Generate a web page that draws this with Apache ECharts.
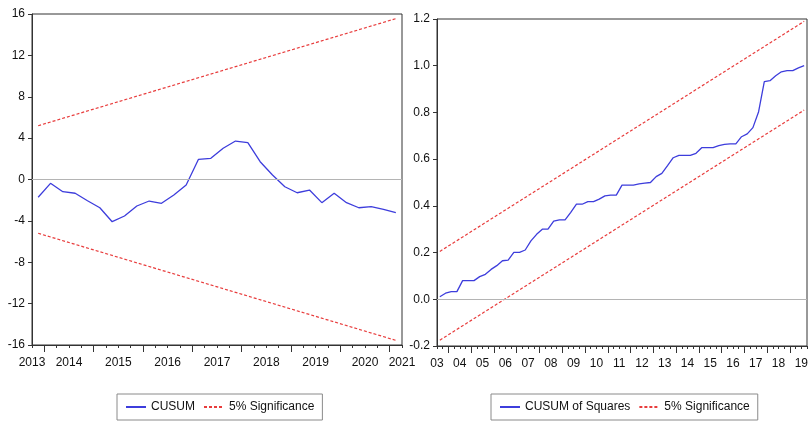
<!DOCTYPE html>
<html>
<head>
<meta charset="utf-8">
<script src="https://cdn.jsdelivr.net/npm/echarts@6/dist/echarts.min.js"></script>
<style>
  html, body { margin: 0; padding: 0; background: #fff; }
  #chart { width: 811px; height: 422px; }
</style>
</head>
<body>
<div id="chart"></div>
<script>
// Recursive residual CUSUM test, quarterly, first observation 2013Q4
const cusumStart = [2013, 4];
const cusumValues = [
  -1.72, -0.37, -1.18, -1.33, -2.05, -2.73, -4.08, -3.53, -2.56, -2.08,
  -2.30, -1.50, -0.53, 1.95, 2.05, 3.02, 3.72, 3.56, 1.72, 0.44,
  -0.70, -1.28, -1.02, -2.24, -1.33, -2.24, -2.73, -2.63, -2.88, -3.21
];
// 5% bounds at the first and last observation (straight lines)
const cusumUpper = [5.2, 15.55];
const cusumLower = [-5.2, -15.55];
const cusumYears = [2013, 2014, 2015, 2016, 2017, 2018, 2019, 2020, 2021];
const cusumYearLabels = ['2013', '2014', '2015', '2016', '2017', '2018', '2019', '2020', '2021'];

// CUSUM of squares, quarterly, first observation 2003Q3
const sqStart = [2003, 3];
const sqValues = [
  0.011, 0.026, 0.033, 0.033, 0.080, 0.080, 0.080, 0.097, 0.107, 0.128,
  0.144, 0.165, 0.168, 0.201, 0.201, 0.211, 0.250, 0.278, 0.300, 0.300,
  0.335, 0.340, 0.340, 0.372, 0.407, 0.407, 0.418, 0.418, 0.429, 0.443,
  0.446, 0.446, 0.489, 0.489, 0.489, 0.494, 0.497, 0.500, 0.525, 0.539,
  0.572, 0.606, 0.616, 0.616, 0.616, 0.625, 0.649, 0.649, 0.649, 0.658,
  0.663, 0.665, 0.665, 0.696, 0.708, 0.735, 0.803, 0.932, 0.936, 0.957,
  0.974, 0.979, 0.979, 0.991, 1.000
];
const sqUpper = [0.205, 1.19];
const sqLower = [-0.175, 0.81];
const sqYears = [2003, 2004, 2005, 2006, 2007, 2008, 2009, 2010, 2011,
  2012, 2013, 2014, 2015, 2016, 2017, 2018, 2019];
const sqYearLabels = ['03', '04', '05', '06', '07', '08', '09', '10', '11',
  '12', '13', '14', '15', '16', '17', '18', '19'];

const FONT = "'Liberation Sans Narrow', 'Arial Narrow', 'Liberation Sans', Arial, sans-serif";
const BLUE = '#3d3ddc';
const RED = '#e83c3c';
const FRAME = '#333';

// Quarter slots: observation i occupies [i, i+1]; year ticks sit on Q1 boundaries,
// year labels are centred on the year's span and kept inside the axis.
function quarterAxis(start, n, years, texts) {
  const [y0, q0] = start;
  const q1Slot = y => (y - y0) * 4 + 1 - q0;
  const minor = [];
  for (let i = 0; i <= n; i++) minor.push(i);
  const major = years.map(q1Slot).filter(v => v >= 0 && v <= n);
  const labelMap = {};
  const labelPos = years.map((y, k) => {
    const c = Math.min(n, Math.max(0, q1Slot(y) + 2));
    labelMap[c] = texts[k];
    return c;
  });
  return { minor, major, labelPos, labelMap };
}

function xAxesFor(gridIndex, n, qa) {
  return [
    {
      type: 'value', gridIndex, min: 0, max: n, position: 'bottom',
      axisLine: { show: true, onZero: false, lineStyle: { color: FRAME, width: 1 } },
      axisTick: { show: true, customValues: qa.minor, length: 3, lineStyle: { color: FRAME } },
      axisLabel: {
        show: true, customValues: qa.labelPos, margin: 12,
        formatter: v => qa.labelMap[v] ?? '',
        color: '#111', fontFamily: FONT, fontSize: 12
      },
      splitLine: { show: false }
    },
    {
      type: 'value', gridIndex, min: 0, max: n, position: 'bottom',
      axisLine: { show: false, onZero: false },
      axisTick: { show: true, customValues: qa.major, length: 7, lineStyle: { color: FRAME } },
      axisLabel: { show: false },
      splitLine: { show: false }
    }
  ];
}

function yAxisFor(gridIndex, min, max, interval, fmt) {
  return {
    type: 'value', gridIndex, min, max, interval,
    axisLine: { show: true, onZero: false, lineStyle: { color: FRAME, width: 1 } },
    axisTick: { show: true, length: 4, lineStyle: { color: FRAME } },
    axisLabel: { margin: 7, color: '#111', fontFamily: FONT, fontSize: 12, formatter: fmt },
    splitLine: { show: false }
  };
}

function pts(values) { return values.map((v, i) => [i + 0.5, v]); }
function ends(pair, n) { return [[0.5, pair[0]], [n - 0.5, pair[1]]]; }

const nC = cusumValues.length;
const nS = sqValues.length;
const qaC = quarterAxis(cusumStart, nC, cusumYears, cusumYearLabels);
const qaS = quarterAxis(sqStart, nS, sqYears, sqYearLabels);

const zeroLine = {
  silent: true, symbol: 'none', label: { show: false },
  lineStyle: { color: '#b4b4b4', type: 'solid', width: 1 },
  emphasis: { disabled: true },
  data: [{ yAxis: 0 }]
};
const dashStyle = { color: RED, width: 1.2, type: [3, 2] };
const solidStyle = { color: BLUE, width: 1.3 };

const legendBase = {
  orient: 'horizontal', top: 394, padding: [7, 8, 7, 8],
  borderColor: '#8a8a8a', borderWidth: 1, itemWidth: 20, itemHeight: 10, itemGap: 8,
  itemStyle: { color: 'transparent', borderColor: 'transparent', borderWidth: 0, opacity: 0 },
  textStyle: { fontFamily: FONT, fontSize: 12, color: '#111' }
};

const option = {
  animation: false,
  backgroundColor: '#fff',
  grid: [
    { left: 32, top: 14, width: 370, height: 331, show: true, borderColor: FRAME, borderWidth: 1, backgroundColor: 'transparent' },
    { left: 437, top: 19, width: 370, height: 327, show: true, borderColor: FRAME, borderWidth: 1, backgroundColor: 'transparent' }
  ],
  xAxis: [...xAxesFor(0, nC, qaC), ...xAxesFor(1, nS, qaS)],
  yAxis: [
    yAxisFor(0, -16, 16, 4, v => String(v)),
    yAxisFor(1, -0.2, 1.2, 0.2, v => v.toFixed(1))
  ],
  legend: [
    Object.assign({}, legendBase, { left: 117, data: ['CUSUM', '5% Significance'] }),
    Object.assign({}, legendBase, { left: 491, data: ['CUSUM of Squares', '5% Significance'] })
  ],
  series: [
    { name: 'CUSUM', type: 'line', xAxisIndex: 0, yAxisIndex: 0, data: pts(cusumValues),
      symbol: 'none', lineStyle: solidStyle, itemStyle: { color: BLUE }, markLine: zeroLine, z: 3 },
    { name: '5% Significance', type: 'line', xAxisIndex: 0, yAxisIndex: 0, data: ends(cusumUpper, nC),
      symbol: 'none', lineStyle: dashStyle, itemStyle: { color: RED }, z: 2 },
    { name: '5% Significance', type: 'line', xAxisIndex: 0, yAxisIndex: 0, data: ends(cusumLower, nC),
      symbol: 'none', lineStyle: dashStyle, itemStyle: { color: RED }, z: 2 },
    { name: 'CUSUM of Squares', type: 'line', xAxisIndex: 2, yAxisIndex: 1, data: pts(sqValues),
      symbol: 'none', lineStyle: solidStyle, itemStyle: { color: BLUE }, markLine: zeroLine, z: 3 },
    { name: '5% Significance', type: 'line', xAxisIndex: 2, yAxisIndex: 1, data: ends(sqUpper, nS),
      symbol: 'none', lineStyle: dashStyle, itemStyle: { color: RED }, z: 2 },
    { name: '5% Significance', type: 'line', xAxisIndex: 2, yAxisIndex: 1, data: ends(sqLower, nS),
      symbol: 'none', lineStyle: dashStyle, itemStyle: { color: RED }, z: 2 }
  ]
};

const chart = echarts.init(document.getElementById('chart'), null, { renderer: 'canvas' });
chart.setOption(option);
</script>
</body>
</html>
